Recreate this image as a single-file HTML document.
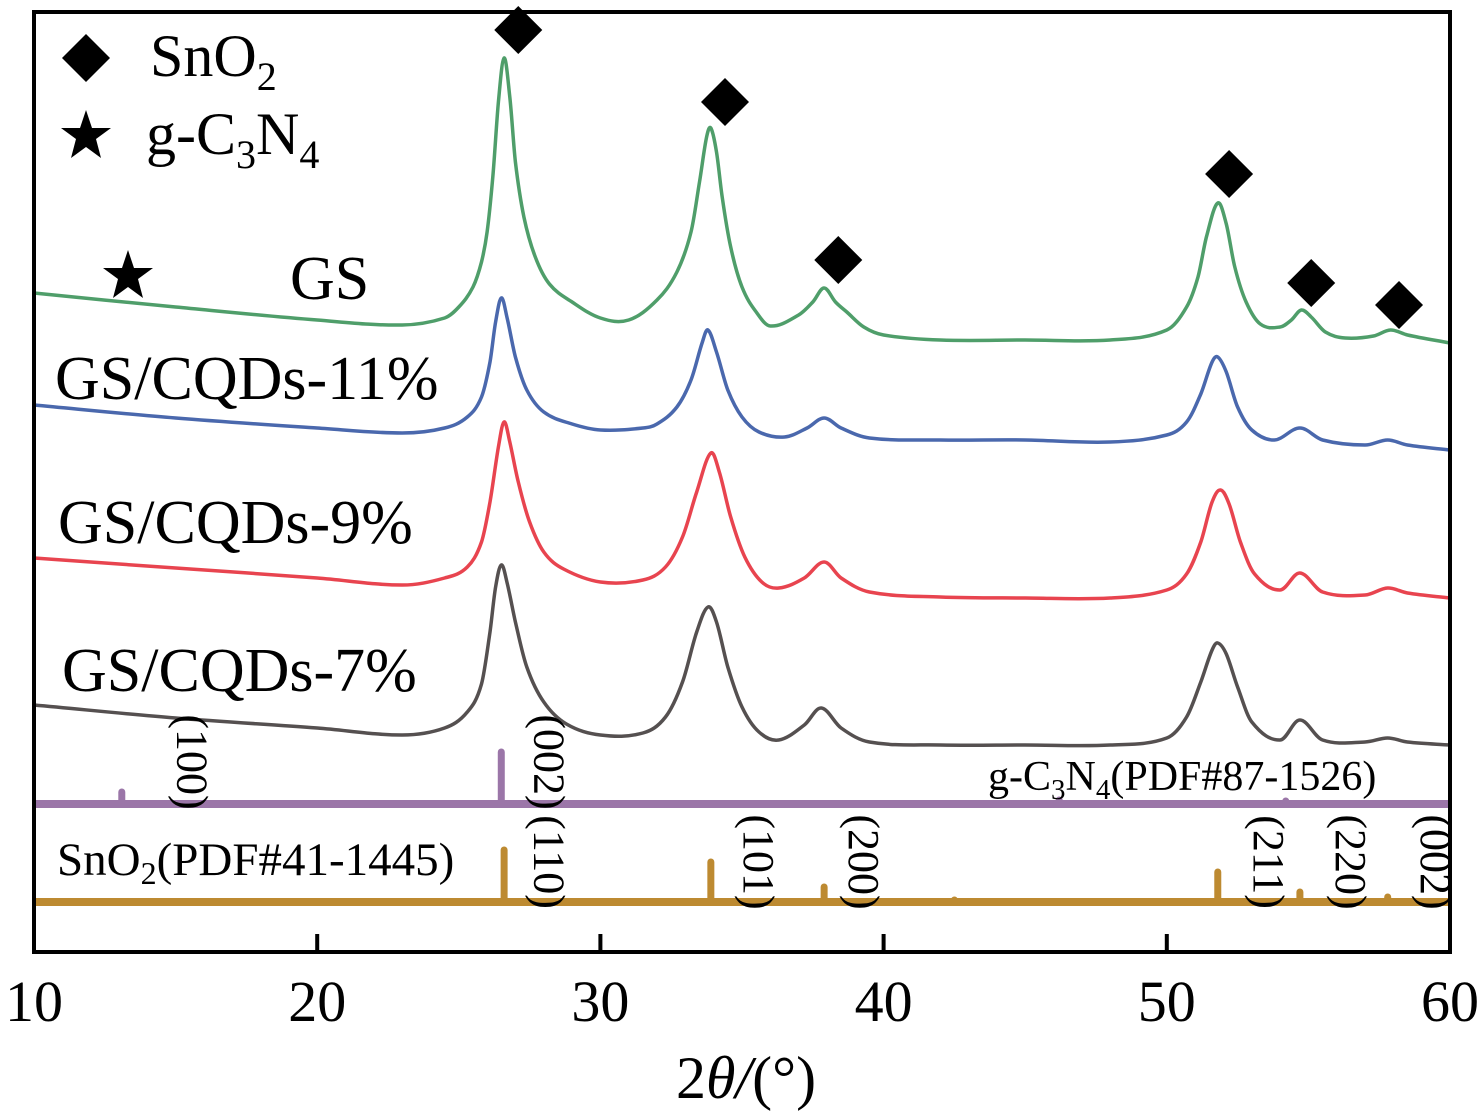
<!DOCTYPE html>
<html><head><meta charset="utf-8"><style>
html,body{margin:0;padding:0;background:#fff;}
svg{display:block;font-family:"Liberation Serif",serif;}
</style></head><body>
<svg id="chart" width="1480" height="1120" viewBox="0 0 1480 1120" xmlns="http://www.w3.org/2000/svg">
<g id="series"></g>
<g id="refs"></g>
<rect x="34" y="12" width="1416" height="940" fill="none" stroke="#000" stroke-width="4"/>
<g id="ticks"></g>
<text x="746" y="1098" font-size="60" text-anchor="middle">2<tspan font-style="italic">θ/</tspan>(°)</text>
<g>
<polygon points="86,34 110,58 86,82 62,58" fill="#000"/>
<text x="150" y="76" font-size="60">SnO<tspan font-size="40" dy="14">2</tspan></text>
<polygon points="86,110 92,128 111,128 96,139 101,158 86,147 71,158 76,139 61,128 80,128" fill="#000"/>
<text x="146" y="154" font-size="60">g-C<tspan font-size="40" dy="14">3</tspan><tspan dy="-14">N</tspan><tspan font-size="40" dy="14">4</tspan></text>
</g>
<polygon points="128,250 134,268 153,268 138,279 143,298 128,287 113,298 118,279 103,268 122,268" fill="#000"/>
<text x="290" y="299" font-size="62">GS</text>
<text x="55" y="399" font-size="62">GS/CQDs-11%</text>
<text x="58" y="543" font-size="62">GS/CQDs-9%</text>
<text x="62" y="691" font-size="62">GS/CQDs-7%</text>
<text x="988" y="790" font-size="42">g-C<tspan font-size="29" dy="9">3</tspan><tspan dy="-9">N</tspan><tspan font-size="29" dy="9">4</tspan><tspan dy="-9">(PDF#87-1526)</tspan></text>
<text x="57" y="875" font-size="47">SnO<tspan font-size="32" dy="9">2</tspan><tspan dy="-9">(PDF#41-1445)</tspan></text>
<g id="hkl"></g>
<g id="diamonds"></g>
</svg>
<script>
const xTicks = [10, 20, 30, 40, 50, 60];
const gsX = [10,15,20,23,24.5,25.0,25.5,25.8,26.0,26.2,26.4,26.6,26.8,27.0,27.3,27.7,28.2,29,30,31,32,32.7,33.2,33.5,33.75,33.9,34.1,34.3,34.6,35,35.5,36,37,37.5,37.9,38.3,38.7,39.3,40,42,45,48,50,50.7,51.1,51.4,51.8,52.1,52.4,52.8,53.3,54,54.4,54.75,55.1,55.6,56.3,57.3,57.9,58.5,60];
const gsY = [659,645,632,627,634,645,665,690,720,775,850,894,855,790,735,695,668,650,634,632,652,680,720,770,815,824,800,755,705,665,640,626,637,650,664,650,640,625,617,612,612,612,622,645,675,715,749,728,685,650,628,625,632,642,635,620,614,616,622,617,609];
const s11X = [10,15,20,23,24.5,25.3,25.8,26.1,26.3,26.5,26.7,27,27.4,28,29,30,31.5,32,32.7,33.2,33.6,33.8,34.1,34.5,35,35.6,36.5,37.3,37.9,38.5,39.5,42,45,48,50,50.7,51.2,51.6,51.8,52.1,52.5,53,53.8,54.7,55.5,57,57.8,58.5,60];
const s11Y = [547,534,524,519,524,535,555,590,630,654,635,595,562,540,528,522,524,528,545,572,610,622,600,562,535,520,515,524,534,524,514,512,512,510,517,530,558,590,595,580,545,522,512,524,512,507,512,507,502];
const s9X = [10,15,20,23,24.5,25.3,25.8,26.1,26.4,26.6,26.8,27.1,27.5,28,28.7,30,31.5,32.3,32.9,33.4,33.9,34.2,34.6,35.1,35.7,36.3,37.2,37.9,38.5,39.5,42,45,48,50,50.7,51.2,51.6,51.9,52.2,52.6,53.1,54,54.7,55.5,57,57.8,58.5,60];
const s9Y = [394,384,374,367,374,385,410,450,505,530,510,470,430,400,383,370,372,385,415,460,499,480,435,395,370,364,374,390,374,360,355,354,354,362,378,410,450,462,448,410,378,362,379,360,357,364,359,354];
const s7X = [10,15,20,23,24.5,25.3,25.8,26.1,26.3,26.5,26.7,27,27.4,28,28.8,30,31.5,32.3,32.9,33.4,33.8,34.1,34.5,35,35.6,36.3,37.2,37.8,38.5,39.5,42,45,48,50,50.7,51.2,51.6,51.8,52.1,52.5,53,54,54.7,55.5,57,57.8,58.5,60];
const s7Y = [247,234,224,217,224,240,268,320,365,387,370,330,285,250,228,217,219,235,270,320,345,330,285,245,220,212,227,244,224,210,207,207,207,214,235,270,302,309,298,265,230,212,232,212,210,214,210,207];
const gcnPeaks = [13.1, 26.5, 46.2, 54.2];
const gcnInt = [12, 52, 4, 3];
const snoPeaks = [26.6, 33.9, 37.9, 42.5, 51.8, 54.7, 57.8];
const snoInt = [52, 40, 15, 2, 30, 10, 5];
const hklText = ["(100)","(002)","(110)","(101)","(200)","(211)","(220)","(002)"];
const hklPos = [15.6, 28.2, 28.2, 35.6, 39.3, 53.6, 56.5, 59.5];
const hklRow = [0, 0, 1, 1, 1, 1, 1, 1];
const diamondX = [27.1, 34.4, 38.4, 52.2, 55.1, 58.2];
const diamondH = [922, 850, 692, 778, 669, 647];

const NS = "http://www.w3.org/2000/svg";
const xs = v => 34 + (v - 10) * 28.32;
const ys = v => 952 - v;
function mk(tag, parent, attrs) { const e = document.createElementNS(NS, tag); for (const k in attrs) e.setAttribute(k, attrs[k]); parent.appendChild(e); return e; }
function smoothPath(P) {
  let d = 'M' + P[0][0] + ',' + P[0][1];
  for (let i = 0; i < P.length - 1; i++) {
    const p0 = P[Math.max(0, i - 1)], p1 = P[i], p2 = P[i + 1], p3 = P[Math.min(P.length - 1, i + 2)];
    const t = 0.35;
    const c1x = p1[0] + (p2[0] - p0[0]) * t / 2 * (p2[0]-p1[0]) / Math.max(1e-6,(p2[0]-p0[0])/2) ;
    const c1y = p1[1] + (p2[1] - p0[1]) * t / 2 * (p2[0]-p1[0]) / Math.max(1e-6,(p2[0]-p0[0])/2);
    const c2x = p2[0] - (p3[0] - p1[0]) * t / 2 * (p2[0]-p1[0]) / Math.max(1e-6,(p3[0]-p1[0])/2);
    const c2y = p2[1] - (p3[1] - p1[1]) * t / 2 * (p2[0]-p1[0]) / Math.max(1e-6,(p3[0]-p1[0])/2);
    d += ' C' + c1x.toFixed(1) + ',' + c1y.toFixed(1) + ' ' + c2x.toFixed(1) + ',' + c2y.toFixed(1) + ' ' + p2[0].toFixed(1) + ',' + p2[1].toFixed(1);
  }
  return d;
}

const sg = document.getElementById('series');
[[gsX, gsY, '#4f9e6a', 'series-gs'], [s11X, s11Y, '#4a68ad', 'series-gs-cqds-11'], [s9X, s9Y, '#e8444f', 'series-gs-cqds-9'], [s7X, s7Y, '#555050', 'series-gs-cqds-7']].forEach(([X, Y, c, n]) => {
  const pts = X.map((x, i) => [xs(x), ys(Y[i])]);
  const p = mk('path', sg, { d: smoothPath(pts), fill: 'none', stroke: c, 'stroke-width': 3.5, 'stroke-linejoin': 'round' });
  
  
});

const rg = document.getElementById('refs');
function refPattern(peaks, ints, base, color, name) {
  const l = mk('line', rg, { x1: 34, x2: 1450, y1: base, y2: base, stroke: color, 'stroke-width': 8 });
  
  
  peaks.forEach((p, i) => {
    const s = mk('line', rg, { x1: xs(p), x2: xs(p), y1: base, y2: base - ints[i], stroke: color, 'stroke-width': 7, 'stroke-linecap': 'round' });
    
    
  });
}
refPattern(gcnPeaks, gcnInt, 804, '#9b76a8', 'gc3n4-ref');
refPattern(snoPeaks, snoInt, 902, '#bd8a31', 'sno2-ref');

const tg = document.getElementById('ticks');
xTicks.forEach(t => {
  const l = mk('line', tg, { x1: xs(t), x2: xs(t), y1: 952, y2: 934, stroke: '#000', 'stroke-width': 4 });
  
  
  const tx = mk('text', tg, { x: xs(t), y: 1021, 'font-size': 58, 'text-anchor': 'middle' });
  tx.textContent = t;
  
  
});

const hg = document.getElementById('hkl');
hklText.forEach((h, i) => {
  const cy = hklRow[i] === 0 ? 762 : 862;
  const x = xs(hklPos[i]);
  const t = mk('text', hg, { x: 0, y: 0, 'font-size': 44, 'text-anchor': 'middle', transform: 'translate(' + (x - 15) + ',' + cy + ') rotate(90)' });
  t.textContent = h;
  
  
});

const dg = document.getElementById('diamonds');
diamondX.forEach((d, i) => {
  const cx = xs(d), cy = ys(diamondH[i]);
  const p = mk('polygon', dg, { points: [cx, cy - 24, cx + 24, cy, cx, cy + 24, cx - 24, cy].join(','), fill: '#000' });
  
  
});
</script>
</body></html>
